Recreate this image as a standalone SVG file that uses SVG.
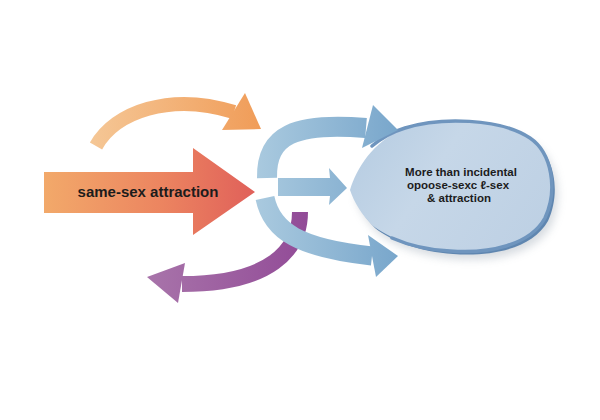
<svg xmlns="http://www.w3.org/2000/svg" width="600" height="420" viewBox="0 0 600 420">
  <defs>
    <linearGradient id="gBig" gradientUnits="userSpaceOnUse" x1="44" y1="0" x2="255" y2="0">
      <stop offset="0" stop-color="#f2a96a"/>
      <stop offset="0.55" stop-color="#ec8560"/>
      <stop offset="1" stop-color="#e0605a"/>
    </linearGradient>
    <linearGradient id="gOrange" gradientUnits="userSpaceOnUse" x1="90" y1="0" x2="262" y2="0">
      <stop offset="0" stop-color="#f5c796"/>
      <stop offset="1" stop-color="#f09c58"/>
    </linearGradient>
    <linearGradient id="gPurple" gradientUnits="userSpaceOnUse" x1="147" y1="0" x2="307" y2="0">
      <stop offset="0" stop-color="#a874aa"/>
      <stop offset="1" stop-color="#924b97"/>
    </linearGradient>
    <linearGradient id="gBlue" gradientUnits="userSpaceOnUse" x1="255" y1="0" x2="400" y2="0">
      <stop offset="0" stop-color="#aacadf"/>
      <stop offset="1" stop-color="#78a6cb"/>
    </linearGradient>
    <linearGradient id="gBubble" gradientUnits="userSpaceOnUse" x1="350" y1="120" x2="555" y2="255">
      <stop offset="0" stop-color="#b4cbe1"/>
      <stop offset="0.4" stop-color="#c6d7e8"/>
      <stop offset="1" stop-color="#bccfe3"/>
    </linearGradient>
    <filter id="soft" x="-20%" y="-20%" width="140%" height="140%">
      <feGaussianBlur stdDeviation="4"/>
    </filter>
    <path id="bubbleShape" d="M350,190 C357,168 372,142 405,128 C440,117 500,118 530,138 C552,153 558,190 545,218 C530,245 490,254 450,251 C418,249 388,238 372,225 C362,215 354,202 350,190 Z"/>
  </defs>
  <style>
    .lbl { font-family: "Liberation Sans", Arial, sans-serif; font-weight: bold; fill: #1c1c1c; text-anchor: middle; }
    .arc { fill: none; stroke-linecap: butt; }
  </style>
  <rect width="600" height="420" fill="#ffffff"/>

  <g id="same-sex-attraction">
    <path d="M44,172 L193,172 L193,148 L255,192 L193,235 L193,213 L44,213 Z" fill="url(#gBig)"/>
    <text class="lbl" x="148" y="197" font-size="15">same-sex attraction</text>
  </g>

  <g id="bubble">
    <use href="#bubbleShape" transform="translate(6,8)" fill="#8c9aa8" opacity="0.35" filter="url(#soft)"/>
    <use href="#bubbleShape" transform="translate(3,3)" fill="#5f86b0"/>
    <use href="#bubbleShape" fill="url(#gBubble)"/>
    <path d="M372,146 C385,135 395,131 405,128 C440,117 500,118 530,138 C552,153 558,190 545,218 C530,245 490,254 450,251 C428,250 408,245 392,238" fill="none" stroke="#6f95be" stroke-width="3.5" stroke-linecap="round"/>
    <text class="lbl" x="461" y="176" font-size="11.5">More than incidental</text>
    <text class="lbl" x="458" y="189" font-size="11.5">opoose-sexc ℓ-sex</text>
    <text class="lbl" x="459" y="202" font-size="11.5">&amp; attraction</text>
  </g>

  <g id="connectors">
    <g id="orange-arc">
      <path class="arc" d="M96,146 C115,112 170,92 234,112" stroke="url(#gOrange)" stroke-width="14"/>
      <polygon points="245,93 261,129 222,130" fill="url(#gOrange)"/>
    </g>
    <g id="purple-arc">
      <path class="arc" d="M300,212 C300,250 270,284 182,284" stroke="url(#gPurple)" stroke-width="16"/>
      <polygon points="185,263 147,277 178,303" fill="url(#gPurple)"/>
    </g>
    <g id="blue-top-arc">
      <path class="arc" d="M267,178 C266,135 295,122 366,128" stroke="url(#gBlue)" stroke-width="20"/>
      <polygon points="373,105 398,130 362,148" fill="url(#gBlue)"/>
    </g>
    <g id="blue-middle-arrow">
      <path d="M278,178 L330,178 L329,168 L347,188 L329,205 L330,196 L278,196 Z" fill="url(#gBlue)"/>
    </g>
    <g id="blue-bottom-arc">
      <path class="arc" d="M265,198 C272,232 300,248 372,256" stroke="url(#gBlue)" stroke-width="19"/>
      <polygon points="368,235 398,256 376,277" fill="url(#gBlue)"/>
    </g>
  </g>
</svg>
